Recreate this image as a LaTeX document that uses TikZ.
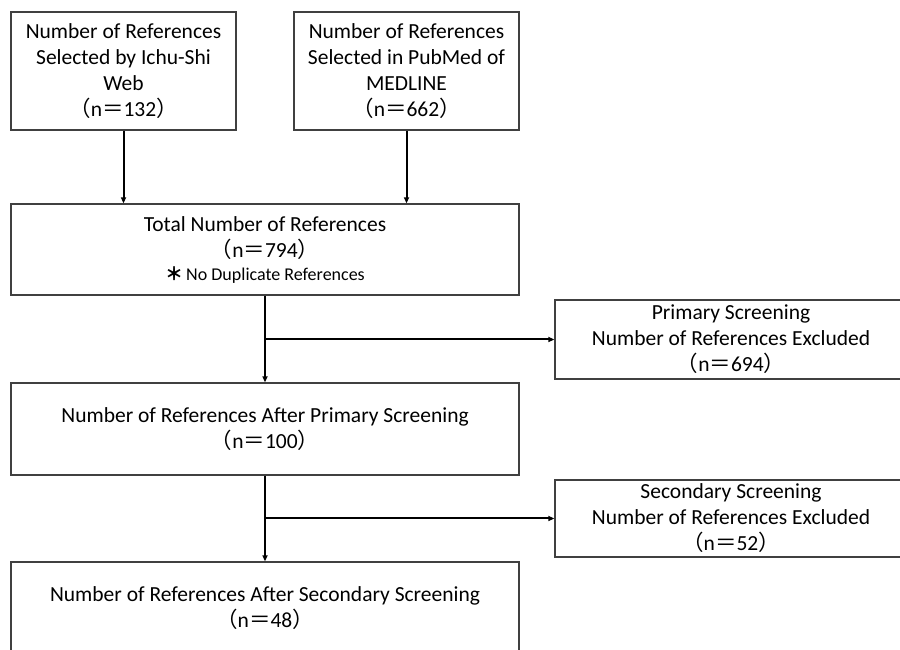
\documentclass[tikz,border=0pt]{standalone}
\usepackage{fontspec}
\setmainfont[Numbers=Lining]{Carlito}
\newfontfamily\cjk{Noto Sans CJK JP}
\usepackage{tikz}
\usetikzlibrary{arrows.meta}
\newcommand{\nval}[1]{{\cjk （}n{\cjk ＝}#1{\cjk ）}}

\begin{document}
\begin{tikzpicture}[x=1pt,y=1pt,
    refbox/.style={draw=black!75, line width=1.3pt, inner sep=0pt, align=center,
                   font=\fontsize{21.5}{26}\selectfont},
    flow/.style={line width=2pt, -{Triangle[length=6pt,width=5pt]}}]
            \clip (0,0) rectangle (900,650);
            % sources
            \node [refbox, minimum width=225pt, minimum height=118pt] (ichushi) at (123.5,579)
                  {Number of References\\Selected by Ichu-Shi\\Web\\\nval{132}};
            \node [refbox, minimum width=225pt, minimum height=118pt] (pubmed) at (406.5,579)
                  {Number of References\\Selected in PubMed of\\MEDLINE\\\nval{662}};
            % total
            \node [refbox, minimum width=508pt, minimum height=91pt] (total) at (265,400.5)
                  {Total Number of References\\\nval{794}\\[-3pt]
                   {\fontsize{18}{22}\selectfont{\cjk\bfseries ＊}\,No Duplicate References}};
            % screening
            \node [refbox, minimum width=352pt, minimum height=79pt] (excla) at (731,310.5)
                  {Primary Screening\\Number of References Excluded\\\nval{694}};
            \node [refbox, minimum width=508pt, minimum height=92pt] (primary) at (265,221)
                  {Number of References After Primary Screening\\\nval{100}};
            \node [refbox, minimum width=352pt, minimum height=77pt] (exclb) at (731,131.5)
                  {Secondary Screening\\Number of References Excluded\\\nval{52}};
            \node [refbox, minimum width=508pt, minimum height=92pt] (secondary) at (265,42)
                  {Number of References After Secondary Screening\\\nval{48}};
            % connectors
            \draw [flow] (ichushi.south) -- (total.north -| ichushi.south);
            \draw [flow] (pubmed.south) -- (total.north -| pubmed.south);
            \draw [flow] (total.south) -- (primary.north);
            \draw [flow] (primary.south) -- (secondary.north);
            \coordinate (splita) at (total.south |- excla.west);
            \coordinate (splitb) at (primary.south |- exclb.west);
            \draw [flow] (splita) -- (excla.west);
            \draw [flow] (splitb) -- (exclb.west);
        \end{tikzpicture}
\end{document}
